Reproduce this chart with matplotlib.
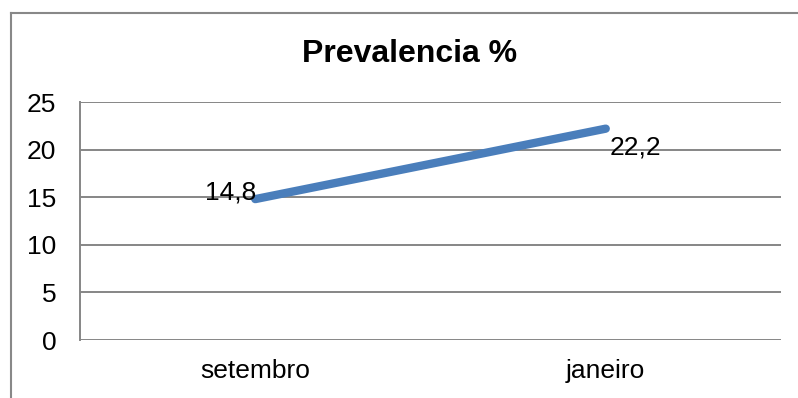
import matplotlib.pyplot as plt
from matplotlib.lines import Line2D

plt.rcParams['font.family'] = ['Liberation Sans', 'DejaVu Sans']

meses = ["setembro", "janeiro"]
prevalencia = [14.8, 22.2]
yticks = [0, 5, 10, 15, 20, 25]

W, H = 798, 398
fig = plt.figure(figsize=(W / 100, H / 100), dpi=100)
ax = fig.add_axes([80 / W, 1 - 340 / H, 701 / W, 238 / H])

x = list(range(len(meses)))
ax.plot(x, prevalencia, color="#4a7ebb", lw=6, solid_capstyle="round", zorder=3)

# data labels, placed like the spreadsheet version
ax.annotate(f"{prevalencia[0]:.1f}".replace(".", ","), (x[0], prevalencia[0]), xytext=(1, 0),
            textcoords="offset points", ha="right", va="baseline", fontsize=19)
ax.annotate(f"{prevalencia[1]:.1f}".replace(".", ","), (x[1], prevalencia[1]), xytext=(3, -5),
            textcoords="offset points", ha="left", va="top", fontsize=19)

ax.set_xlim(-0.5, 1.5)
ax.set_ylim(0, 25)
ax.set_xticks(x)
ax.set_xticklabels(meses)
ax.set_yticks(yticks)
ax.tick_params(axis="both", length=0, labelsize=19)
ax.tick_params(axis="y", pad=17)
ax.tick_params(axis="x", pad=14)
ax.grid(axis="y", color="#868686", lw=1.4)
ax.set_axisbelow(True)
for side in ["top", "right", "bottom"]:
    ax.spines[side].set_visible(False)
ax.spines["left"].set_color("#868686")
ax.spines["left"].set_linewidth(1.4)

fig.text(410 / W, 1 - 62 / H, "Prevalencia %", ha="center", va="baseline",
         fontsize=23, fontweight="bold")

# chart-area frame (only left and top edges show)
fx = 10.5 / W
fy = 1 - 12.5 / H
fig.add_artist(Line2D([fx, fx], [0, fy], transform=fig.transFigure, color="#888888", lw=1.5))
fig.add_artist(Line2D([fx, 1], [fy, fy], transform=fig.transFigure, color="#888888", lw=1.5))

fig.savefig("out.png", dpi=100, facecolor="white")
